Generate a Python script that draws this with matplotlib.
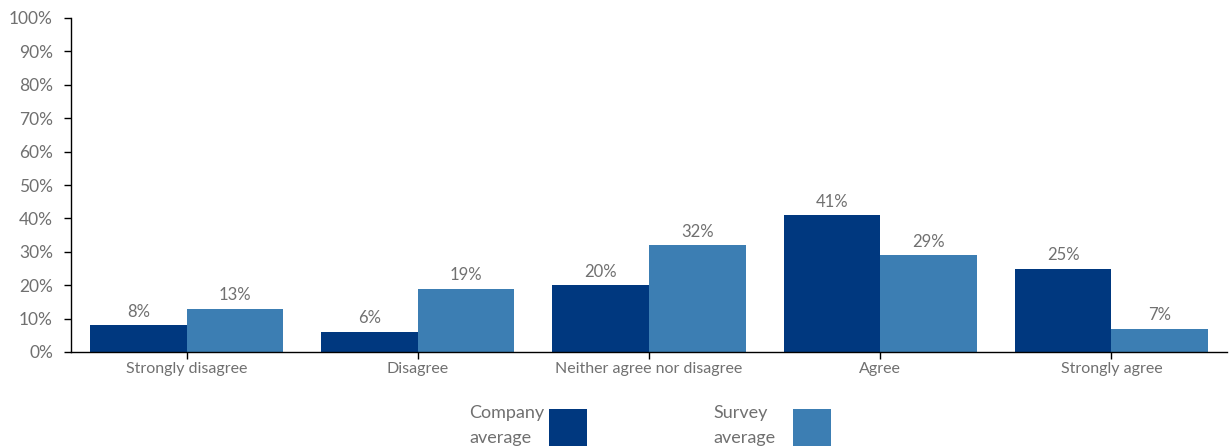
import matplotlib.pyplot as plt
from matplotlib.patches import Rectangle
import numpy as np

categories = ["Strongly disagree", "Disagree", "Neither agree nor disagree", "Agree", "Strongly agree"]
company = [8, 6, 20, 41, 25]
survey = [13, 19, 32, 29, 7]
series_names = [("Company", "average"), ("Survey", "average")]

company_color = "#00387f"
survey_color = "#3c7eb3"
text_color = "#707070"

plt.rcParams["font.family"] = ["Lato", "DejaVu Sans"]

W, H = 1231, 446
fig = plt.figure(figsize=(W / 100, H / 100), dpi=100)
ax = fig.add_axes([71 / W, 1 - 352 / H, (1227 - 71) / W, (352 - 18) / H])

x = np.arange(len(categories))
w = 0.418
b1 = ax.bar(x - w / 2, company, w, color=company_color)
b2 = ax.bar(x + w / 2, survey, w, color=survey_color)

for bars, vals in ((b1, company), (b2, survey)):
    for rect, v in zip(bars, vals):
        ax.annotate(f"{v}%", (rect.get_x() + rect.get_width() / 2, v),
                    xytext=(0, 4), textcoords="offset points",
                    ha="center", va="bottom", fontsize=12, color=text_color)

ax.set_xlim(-0.5, len(categories) - 0.5)
ax.set_ylim(0, 100)
ax.set_yticks(range(0, 101, 10))
ax.set_yticklabels([f"{t}%" for t in range(0, 101, 10)])
ax.set_xticks(x)
ax.set_xticklabels(categories)

for s in ("top", "right"):
    ax.spines[s].set_visible(False)
for s in ("left", "bottom"):
    ax.spines[s].set_color("black")
    ax.spines[s].set_linewidth(1)
ax.tick_params(axis="y", direction="out", length=5, width=1, colors="black",
               labelcolor=text_color, labelsize=12.5, pad=8)
ax.tick_params(axis="x", direction="out", length=5, width=1, colors="black",
               labelcolor=text_color, labelsize=11.5, pad=2)

# legend below the plot: two-line label on the left, square swatch on the right
legend_items = [(469, 549, series_names[0], b1), (713, 793, series_names[1], b2)]
for text_x, box_x, (line1, line2), bars in legend_items:
    fig.text(text_x / W, 1 - 418 / H, line1, fontsize=13, color=text_color, va="baseline")
    fig.text(text_x / W, 1 - 443 / H, line2, fontsize=13, color=text_color, va="baseline")
    fig.patches.append(Rectangle((box_x / W, 1 - 447 / H), 38 / W, 38 / H,
                                 transform=fig.transFigure,
                                 facecolor=bars[0].get_facecolor(), edgecolor="none"))

fig.savefig("out.png", dpi=100)
